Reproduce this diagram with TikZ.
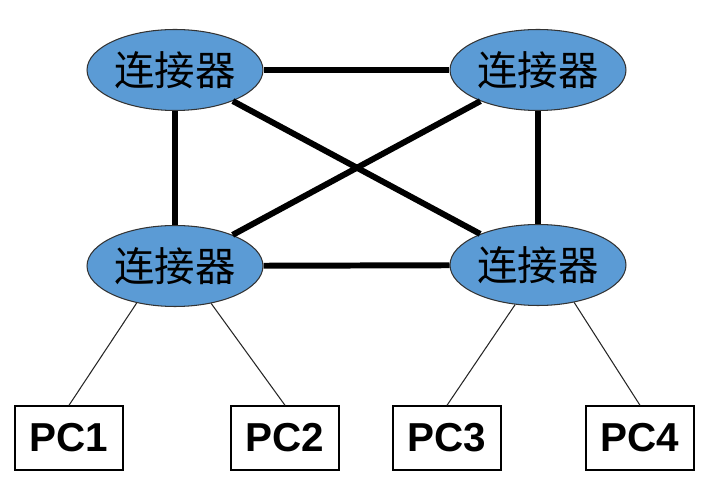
\documentclass[tikz,border=0pt]{standalone}
\usepackage{fontspec}
\setmainfont{Liberation Sans}
\newfontfamily\cjk{Noto Sans CJK SC}
\usepackage{tikz}
\usetikzlibrary{shapes.geometric}
\definecolor{hub}{RGB}{91,155,213}

\begin{document}
\begin{tikzpicture}[x=0.02cm, y=-0.02cm,
  conn/.style={draw=black!80, line width=0.6pt, ellipse, fill=hub, inner sep=0pt,
    minimum width=3.52cm, minimum height=1.62cm, font=\cjk\fontsize{23}{26}\selectfont},
  pc/.style={draw, line width=0.8pt, minimum width=2.16cm, minimum height=1.28cm,
    inner sep=0pt, font=\bfseries\fontsize{23}{26}\selectfont},
  trunk/.style={line width=3.4pt},
  lan/.style={line width=0.6pt, black!85},
]
\useasboundingbox (0,0) rectangle (719,492);

\node[conn] (tl) at (175,70) {连接器};
\node[conn] (tr) at (538,70) {连接器};
\node[conn] (bl) at (175,266) {连接器};
\node[conn] (br) at (538,265) {连接器};

\node[pc] (pc1) at (69,438) {PC1};
\node[pc] (pc2) at (285,438) {PC2};
\node[pc] (pc3) at (447,438) {PC3};
\node[pc] (pc4) at (640,438) {PC4};

% backbone
\draw[trunk] (tl) -- (tr);
\draw[trunk] (tl) -- (bl);
\draw[trunk] (tr) -- (br);
\draw[trunk] (bl) -- (br);
\draw[trunk] (tl) -- (br);
\draw[trunk] (bl) -- (tr);

% hosts
\draw[lan] (bl.224) -- (pc1.north);
\draw[lan] (bl.314) -- (pc2.north);
\draw[lan] (br.240) -- (pc3.north);
\draw[lan] (br.314) -- (pc4.north);
\end{tikzpicture}
\end{document}
